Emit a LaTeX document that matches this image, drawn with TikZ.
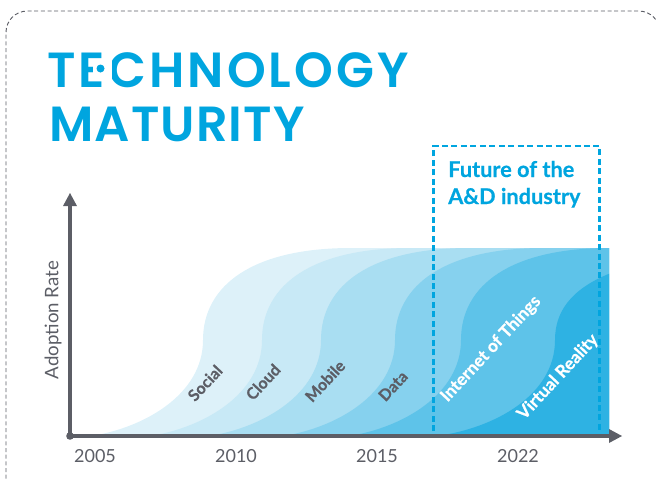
\documentclass[tikz,border=0pt]{standalone}
\usepackage{fontspec}
\setmainfont{Lato}
\newfontfamily\titlefonta[LetterSpace=6.3]{Poppins SemiBold}
\newfontfamily\titlefontb[LetterSpace=2.2]{Poppins SemiBold}
\newfontfamily\labelfont[FakeBold=0.5]{Lato Bold}
\definecolor{brand}{HTML}{00A5DF}
\definecolor{axisgrey}{HTML}{5C5E66}
\definecolor{lyra}{HTML}{DDF1F9}
\definecolor{lyrb}{HTML}{C8E9F6}
\definecolor{lyrc}{HTML}{A9DEF2}
\definecolor{lyrd}{HTML}{86D1EE}
\definecolor{lyre}{HTML}{5EC3E9}
\definecolor{lyrf}{HTML}{2EB2E3}
\tikzset{
  x=0.75pt,y=-0.75pt,
  axisline/.style={draw=axisgrey,line width=2.3pt},
  titletext/.style={anchor=base west,inner sep=0,text=brand},
  yeartext/.style={anchor=base,inner sep=0,text=axisgrey,font=\fontsize{13.5}{14}\selectfont},
  layerdark/.style={anchor=center,inner sep=0,rotate=47,text=axisgrey,font=\labelfont\fontsize{12}{14}\selectfont},
  layerlight/.style={anchor=center,inner sep=0,rotate=47,text=white,font=\labelfont\fontsize{13}{14}\selectfont},
  futuretext/.style={anchor=base west,inner sep=0,text=brand,font=\labelfont\fontsize{16.3}{17}\selectfont},
}
\newcommand{\scurve}[3]{%
  \fill[#3] (#1-112,436) .. controls (#1-60,428) and (#1,395) .. (#1,340)
    .. controls (#1,285) and (#1+50,248) .. (#1+#2,248) -- (900,248) -- (900,436) -- cycle;}
\begin{document}
\begin{tikzpicture}
\useasboundingbox (0,0) rectangle (656,479);
\draw[axisgrey,line width=0.7pt,dash pattern=on 3pt off 2pt,rounded corners=16pt]
  (6,492) -- (6,11) -- (660,11) -- (660,492);
\node[titletext,font=\titlefonta\fontsize{37}{37}\selectfont] (t1) at (47,87) {TECHNOLOGY};
\node[titletext,font=\titlefontb\fontsize{37}{37}\selectfont] (t2) at (49,141) {MATURITY};
\fill[white] (92.5,59) rectangle (112,79.5);
\fill[brand] (100.5,68.5) circle (4);
\begin{scope}
\clip (60,240) rectangle (609,436);
\scurve{203}{148}{lyra}
\scurve{262}{148}{lyrb}
\scurve{321}{148}{lyrc}
\scurve{395}{148}{lyrd}
\scurve{461}{148}{lyre}
\fill[lyrf] (437,436) .. controls (495,428) and (555,395) .. (555,340)
    .. controls (555,285) and (615,248) .. (815,248) -- (900,248) -- (900,436) -- cycle;
\end{scope}
\coordinate (origin) at (70,436);
\coordinate (ytip) at (70,193);
\coordinate (xtip) at (622,436);
\draw[axisline] (origin) -- (70,206);
\draw[axisline] (origin) -- (609,436);
\fill[axisgrey] (ytip) -- (77,206) -- (63,206) -- cycle;
\fill[axisgrey] (xtip) -- (609,429) -- (609,443) -- cycle;
\fill[axisgrey] (origin) circle (3.8);
\node[rotate=90,anchor=center,inner sep=0,text=axisgrey,font=\fontsize{14}{14}\selectfont] (yl) at (53,320) {Adoption Rate};
\node[yeartext] (y1) at (95,462) {2005};
\node[yeartext] (y2) at (236,462) {2010};
\node[yeartext] (y3) at (377,462) {2015};
\node[yeartext] (y4) at (518,462) {2022};
\node[layerdark] (a) at (205,383) {Social};
\node[layerdark] (b) at (263,382) {Cloud};
\node[layerdark] (c) at (325,381) {Mobile};
\node[layerdark] (d) at (393,386) {Data};
\node[layerlight] (e) at (491,349) {Internet of Things};
\node[layerlight] (f) at (558,377) {Virtual Reality};
\draw[brand,line width=1.9pt,dash pattern=on 4.5pt off 2.6pt] (433.5,431) -- (433.5,146) -- (599.5,146) -- (599.5,431);
\node[futuretext] (f1) at (448,177) {Future of the};
\node[futuretext] (f2) at (448,204) {A\&D industry};
\end{tikzpicture}
\end{document}
